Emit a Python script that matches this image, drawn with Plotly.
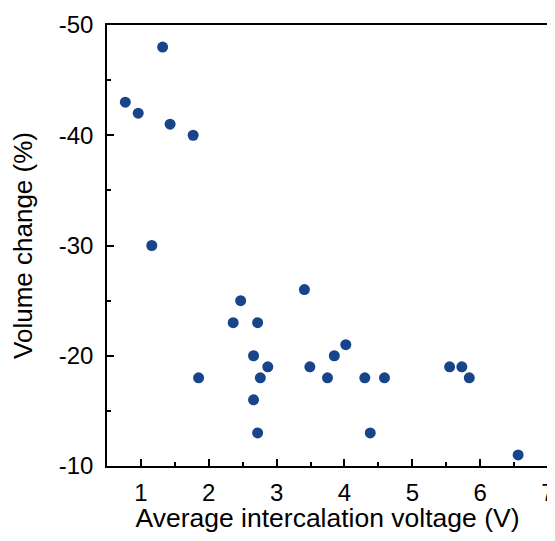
import plotly.graph_objects as go

voltage = [1.32, 0.77, 0.96, 1.43, 1.77, 1.16, 1.85, 2.47, 2.36, 2.72, 3.41,
           2.66, 2.87, 2.76, 2.66, 2.72, 3.49, 3.75, 3.85, 4.02, 4.30, 4.59,
           4.38, 5.55, 5.73, 5.84, 6.56]
volume_change = [-48, -43, -42, -41, -40, -30, -18, -25, -23, -23, -26,
                 -20, -19, -18, -16, -13, -19, -18, -20, -21, -18, -18,
                 -13, -19, -19, -18, -11]

x_ticks = [1, 2, 3, 4, 5, 6, 7]
y_ticks = [-50, -40, -30, -20, -10]
y_ticklabels = ["-50", "-40", "-30", "-20", "-10"]

FONT = "Liberation Sans, Arial, sans-serif"

fig = go.Figure()
fig.add_trace(go.Scatter(
    x=voltage, y=volume_change, mode="markers",
    marker=dict(size=11, color="#18458a", line=dict(width=0)),
    showlegend=False,
))

axis_common = dict(
    showline=True, linecolor="black", linewidth=1.5, mirror=True,
    ticks="inside", ticklen=7, tickwidth=1.5, tickcolor="black",
    showgrid=False, zeroline=False, automargin=False,
    tickfont=dict(family=FONT, size=24, color="black"),
    ticklabeloverflow="allow",
)

# page body has an 8px margin, so the figure sits at (8, 8) in the window
fig.update_layout(
    width=547, height=525,
    margin=dict(l=99, r=6.5, t=17, b=67),
    paper_bgcolor="white", plot_bgcolor="white",
    font=dict(family=FONT, color="black"),
    xaxis=dict(
        range=[0.5, 7], tickmode="array", tickvals=x_ticks,
        ticklabelstandoff=4,
        title=dict(text="Average intercalation voltage (V)", font=dict(family=FONT, size=26.5), standoff=6),
        minor=dict(ticks="inside", ticklen=4, tickwidth=1.5, tickcolor="black", tick0=0.5, dtick=1),
        **axis_common,
    ),
    yaxis=dict(
        range=[-10, -50], tickmode="array", tickvals=y_ticks, ticktext=y_ticklabels,
        ticklabelstandoff=7,
        title=dict(text="Volume change (%)", font=dict(family=FONT, size=26), standoff=20),
        minor=dict(ticks="inside", ticklen=4, tickwidth=1.5, tickcolor="black", tick0=-45, dtick=10),
        **axis_common,
    ),
)

fig.write_html("out.html")
